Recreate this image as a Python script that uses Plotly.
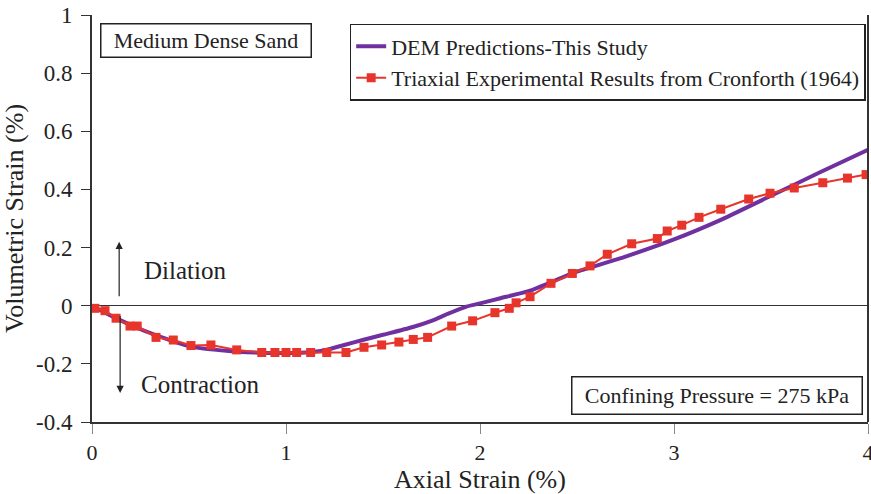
import plotly.graph_objects as go

# DEM predictions (smooth curve)
dem_x = [0, 0.1, 0.25, 0.5, 0.75, 1.0, 1.1, 1.2, 1.3, 1.4, 1.5, 1.65, 1.75, 1.83, 1.93, 2.0, 2.1, 2.25, 2.5,
         2.75, 3.0, 3.25, 3.5, 3.75, 4.0]
dem_y = [0, -0.035, -0.081, -0.139, -0.158, -0.163, -0.161, -0.153, -0.135, -0.117, -0.10, -0.074, -0.052,
         -0.029, -0.003, 0.008, 0.025, 0.05, 0.117, 0.169, 0.228, 0.298, 0.378, 0.458, 0.536]

# Triaxial experimental results (Cronforth 1964)
exp_x = [0.015, 0.067, 0.124, 0.196, 0.233, 0.33, 0.419, 0.51, 0.613, 0.746, 0.875, 0.943, 1.0, 1.055,
         1.127, 1.21, 1.309, 1.402, 1.493, 1.582, 1.656, 1.73, 1.854, 1.962, 2.077, 2.151, 2.186,
         2.258, 2.366, 2.476, 2.567, 2.656, 2.782, 2.914, 2.965, 3.04, 3.129, 3.241, 3.385, 3.495,
         3.62, 3.767, 3.894, 3.99]
exp_y = [-0.009, -0.017, -0.043, -0.07, -0.07, -0.109, -0.118, -0.137, -0.135, -0.152, -0.161, -0.161, -0.161, -0.161,
         -0.161, -0.161, -0.161, -0.143, -0.135, -0.125, -0.116, -0.109, -0.07, -0.052, -0.024, -0.009, 0.010,
         0.031, 0.077, 0.111, 0.137, 0.177, 0.213, 0.231, 0.257, 0.277, 0.304, 0.332, 0.367, 0.387,
         0.405, 0.423, 0.439, 0.451]

x_ticks = [0, 1, 2, 3, 4]
y_ticks = [-0.4, -0.2, 0, 0.2, 0.4, 0.6, 0.8, 1]
y_tick_text = ["-0.4", "-0.2", "0", "0.2", "0.4", "0.6", "0.8", "1"]

FONT = "Liberation Serif, Times New Roman, serif"
TXT = "#222"

fig = go.Figure()
fig.add_trace(go.Scatter(
    x=dem_x, y=dem_y, mode="lines", name="DEM Predictions-This Study",
    line=dict(color="#7030A0", width=4, shape="spline", smoothing=0.6),
))
fig.add_trace(go.Scatter(
    x=exp_x, y=exp_y, mode="lines+markers",
    name="Triaxial Experimental Results from Cronforth (1964)",
    line=dict(color="#E8352B", width=2),
    marker=dict(symbol="square", size=9, color="#E8352B"),
))

fig.update_layout(
    width=871, height=494,
    margin=dict(l=92, r=3, t=15, b=72, autoexpand=False),
    paper_bgcolor="white", plot_bgcolor="white",
    font=dict(family=FONT, size=22, color=TXT),
    showlegend=True,
    legend=dict(
        x=0.997, y=0.978, xanchor="right", yanchor="top",
        bordercolor=TXT, borderwidth=1.5, bgcolor="white",
        font=dict(family=FONT, size=22, color=TXT),
        itemwidth=30, tracegroupgap=0,
    ),
    xaxis=dict(
        range=[0, 4], tickvals=x_ticks, ticktext=[str(v) for v in x_ticks],
        showgrid=False, zeroline=False, automargin=False,
        showline=True, linecolor="#333", linewidth=2,
        ticks="outside", ticklen=10, tickcolor="#888", tickwidth=1,
        ticklabeloverflow="allow",
        title=dict(text="Axial Strain (%)", font=dict(family=FONT, size=26), standoff=8),
        tickfont=dict(family=FONT, size=22),
    ),
    yaxis=dict(
        range=[-0.4, 1], tickvals=y_ticks, ticktext=y_tick_text,
        showgrid=False, zeroline=True, zerolinecolor="#333", zerolinewidth=1,
        showline=True, linecolor="#333", linewidth=2, automargin=False,
        ticks="outside", ticklen=9, tickcolor="#333", tickwidth=1,
        ticklabeloverflow="allow", ticklabelstandoff=4,
        title=dict(text="Volumetric Strain (%)", font=dict(family=FONT, size=26), standoff=8),
        tickfont=dict(family=FONT, size=23),
    ),
)

# right border
fig.add_shape(type="line", xref="paper", yref="paper", x0=1, x1=1, y0=0, y1=1,
              line=dict(color="#333", width=2))

# text boxes
fig.add_annotation(xref="paper", yref="paper", x=0.010, y=0.98, xanchor="left", yanchor="top",
                   text="Medium Dense Sand", showarrow=False, width=207, height=30,
                   font=dict(family=FONT, size=22, color=TXT),
                   bordercolor=TXT, borderwidth=1.5, borderpad=1, bgcolor="white")
fig.add_annotation(xref="paper", yref="paper", x=0.994, y=0.018, xanchor="right", yanchor="bottom",
                   text="Confining Pressure = 275 kPa", showarrow=False, width=287, height=34,
                   font=dict(family=FONT, size=22, color=TXT),
                   bordercolor=TXT, borderwidth=1.5, borderpad=1, bgcolor="white")

# Dilation / Contraction labels and arrows
fig.add_annotation(x=0.48, y=0.12, xref="x", yref="y", text="Dilation", showarrow=False,
                   font=dict(family=FONT, size=25, color=TXT))
fig.add_annotation(x=0.56, y=-0.27, xref="x", yref="y", text="Contraction", showarrow=False,
                   font=dict(family=FONT, size=25, color=TXT))
fig.add_annotation(x=0.14, y=0.22, xref="x", yref="y", ax=0.14, ay=0.027, axref="x", ayref="y",
                   text="", showarrow=True, arrowhead=2, arrowsize=1.2, arrowwidth=1.2, arrowcolor=TXT)
fig.add_annotation(x=0.145, y=-0.3, xref="x", yref="y", ax=0.145, ay=-0.03, axref="x", ayref="y",
                   text="", showarrow=True, arrowhead=2, arrowsize=1.2, arrowwidth=1.2, arrowcolor=TXT)

fig.write_html("out.html")
